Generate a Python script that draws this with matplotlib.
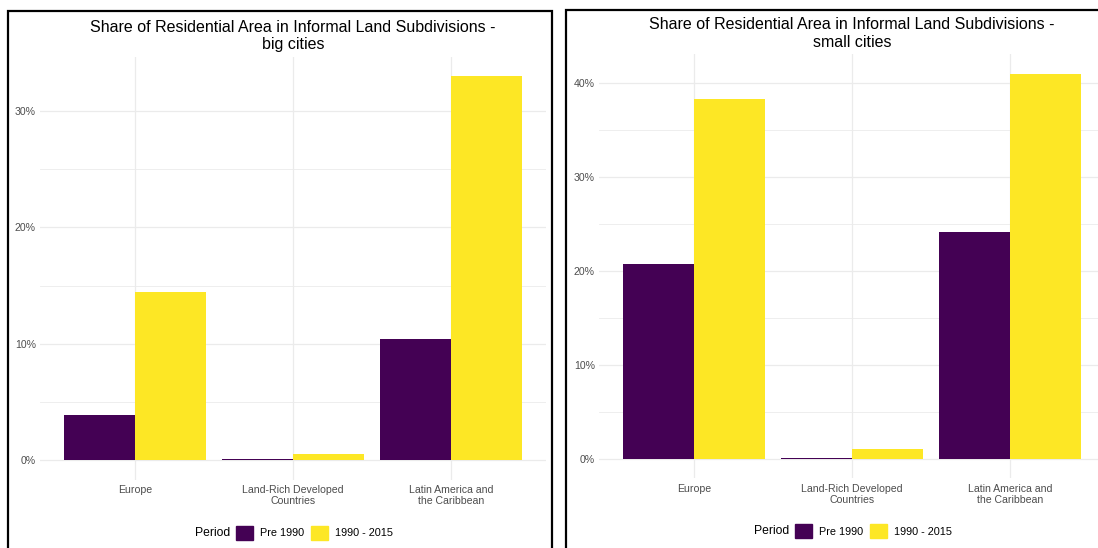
import matplotlib
matplotlib.use("Agg")
import matplotlib.pyplot as plt
from matplotlib.patches import Rectangle, Patch
import numpy as np

plt.rcParams['font.family'] = ['Liberation Sans', 'DejaVu Sans']

# data (share of residential area, %)
categories = ["Europe", "Land-Rich Developed\nCountries",
              "Latin America and\nthe Caribbean"]
periods = ["Pre 1990", "1990 - 2015"]
big_pre = [3.9, 0.15, 10.45]
big_post = [14.45, 0.55, 33.0]
small_pre = [20.7, 0.15, 24.1]
small_post = [38.25, 1.1, 41.0]

PURPLE = '#440154'
YELLOW = '#FDE725'
GRID = '#EBEBEB'
TICK = '#4D4D4D'

W, H = 1098, 548
fig = plt.figure(figsize=(W / 100, H / 100), dpi=100)


def px_box(x0, x1, ytop, ybot):
    return [x0 / W, (H - ybot) / H, (x1 - x0) / W, (ybot - ytop) / H]


def panel(rect, pre, post, subtitle, step):
    ax = fig.add_axes(rect)
    x = np.arange(len(categories))
    bw = 0.45
    ax.bar(x - bw / 2, pre, bw, color=PURPLE, zorder=3)
    ax.bar(x + bw / 2, post, bw, color=YELLOW, zorder=3)

    top = max(post)
    ax.set_ylim(-0.05 * top, 1.05 * top)
    ax.set_xlim(-0.6, len(categories) - 0.4)

    yt = np.arange(0, top + 0.01, step)
    ax.set_yticks(yt)
    ax.set_yticklabels([f'{int(v)}%' for v in yt])
    ax.set_yticks(np.arange(step / 2, 1.05 * top, step), minor=True)
    ax.set_xticks(x)
    ax.set_xticklabels(categories, linespacing=1.15)

    ax.grid(True, which='major', color=GRID, lw=0.9, zorder=0)
    ax.grid(True, which='minor', axis='y', color=GRID, lw=0.6, zorder=0)
    for s in ax.spines.values():
        s.set_visible(False)
    ax.tick_params(length=0, labelsize=7.6, colors=TICK)
    ax.tick_params(axis='y', pad=3)
    ax.tick_params(axis='x', pad=4)
    ax.tick_params(which='minor', length=0)

    ax.set_title('Share of Residential Area in Informal Land Subdivisions -\n'
                 + subtitle, fontsize=11.5, pad=5.5, linespacing=1.22)

    # legend with "Period" to the left of keys
    hands = [Patch(color=PURPLE), Patch(color=YELLOW)]
    leg = ax.legend(hands, periods, ncol=2, loc='center',
                    bbox_to_anchor=(0.543, -0.125), frameon=False,
                    fontsize=7.8, handlelength=1.6, handleheight=1.6,
                    handletextpad=0.65, columnspacing=0.6,
                    borderpad=0, borderaxespad=0)
    ax.annotate('Period', xy=(0, 0.5), xycoords=leg, xytext=(-6, 0),
                textcoords='offset pixels', ha='right', va='center',
                fontsize=8.7)
    return ax


panel(px_box(40, 546, 56.8, 479.7), big_pre, big_post, 'big cities', 10)
panel(px_box(599, 1105, 54.3, 478.3), small_pre, small_post,
      'small cities', 10)

# screenshot frames
fig.add_artist(Rectangle((8 / W, -0.02), (552 - 8) / W, (H - 11) / H + 0.02,
                         transform=fig.transFigure, fill=False, lw=1.6,
                         ec='black'))
fig.add_artist(Rectangle((566 / W, -0.02), 0.6, (H - 10) / H + 0.02,
                         transform=fig.transFigure, fill=False, lw=1.6,
                         ec='black'))

fig.savefig('out.png', dpi=100)
